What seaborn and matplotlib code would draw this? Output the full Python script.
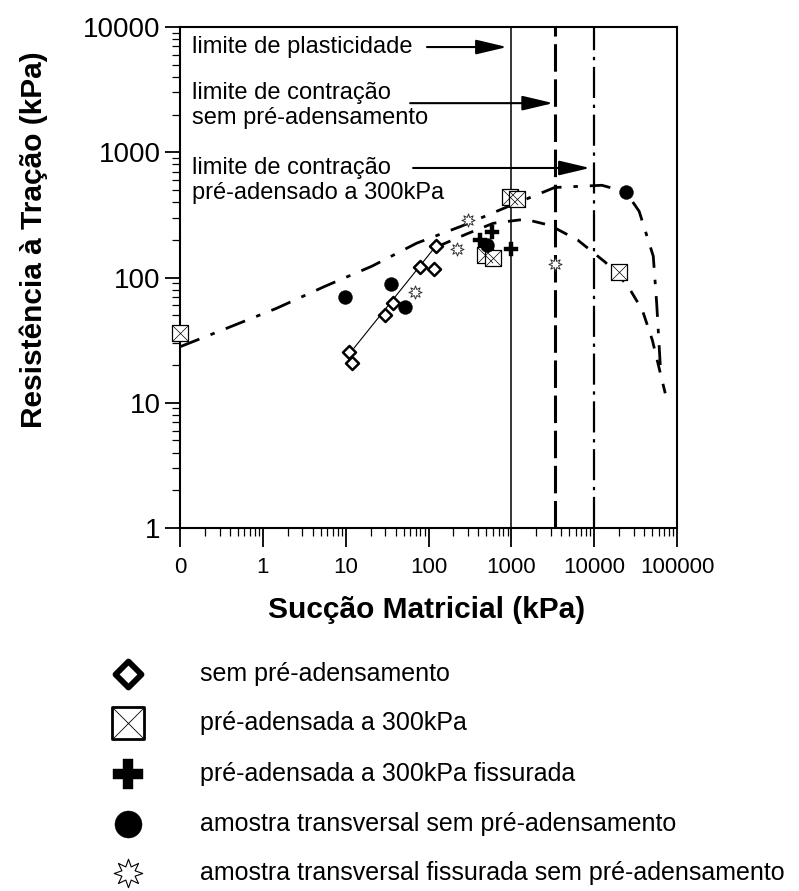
import matplotlib
matplotlib.use("Agg")
import matplotlib.pyplot as plt
import seaborn as sns
from matplotlib.ticker import FixedLocator, FixedFormatter, LogLocator, NullFormatter

sns.set_style("ticks")
plt.rcParams["font.family"] = ["Liberation Sans", "DejaVu Sans"]
plt.rcParams["text.color"] = "black"
plt.rcParams["axes.labelcolor"] = "black"
plt.rcParams["xtick.color"] = "black"
plt.rcParams["ytick.color"] = "black"

# --- ensaios de tração (sucção em kPa, resistência em kPa) ---
sem_x = [11.0, 11.9, 29.7, 37.1, 78.2, 118, 122]
sem_y = [25.3, 20.7, 50.0, 62.4, 121, 116, 178]
sem_fit_x = [12.6, 125]
sem_fit_y = [27.3, 181]

pre_x = [0.1, 960, 1175, 481, 604, 19700]
pre_y = [35.9, 440, 427, 151, 142, 111]

pre_fiss_x = [577, 419, 986]
pre_fiss_y = [231, 199, 170]

transv_x = [9.8, 35.1, 51.6, 502, 24100]
transv_y = [69.6, 88.4, 57.9, 181, 482]

transv_fiss_x = [69.5, 219, 297, 3390]
transv_fiss_y = [76.8, 170, 287, 129]

# curvas características ajustadas
upper_x = [0.1, 0.30, 1.45, 5.77, 20.7, 72, 250, 933, 3330, 12400, 24100, 34900, 51700, 56800, 62800]
upper_y = [28, 37.3, 56.6, 85.7, 123, 188, 257, 371, 523, 545, 482, 338, 148, 62.7, 20]

lower_x = [132, 286, 605, 1465, 2920, 6340, 13700, 25200, 38200, 50400, 72100]
lower_y = [178, 222, 271, 292, 261, 199, 132, 86.8, 54.8, 31.6, 11.9]

# limites de consistência / contração (kPa)
limit_x = [1000, 3400, 10000]
limit_labels = ["limite de plasticidade",
                "limite de contração\nsem pré-adensamento",
                "limite de contração\npré-adensado a 300kPa"]

x_ticks = [0.1, 1, 10, 100, 1000, 10000, 100000]
x_ticklabels = ["0", "1", "10", "100", "1000", "10000", "100000"]
y_ticks = [1, 10, 100, 1000, 10000]
y_ticklabels = ["1", "10", "100", "1000", "10000"]

legend_labels = ["sem pré-adensamento",
                 "pré-adensada a 300kPa",
                 "pré-adensada a 300kPa fissurada",
                 "amostra transversal sem pré-adensamento",
                 "amostra transversal fissurada sem pré-adensamento"]

W, H = 799, 891
fig = plt.figure(figsize=(W / 100, H / 100), dpi=100)
ax = fig.add_axes([180 / W, 1 - 528 / H, 497 / W, 501 / H])
ax.set_xscale("log")
ax.set_yscale("log")
ax.set_xlim(0.1, 1e5)
ax.set_ylim(1, 1e4)

# linhas verticais dos limites
ax.axvline(limit_x[0], color="black", lw=1.1, zorder=1)
ax.axvline(limit_x[1], color="black", lw=2.2, ls=(0, (9, 2.5)), zorder=1)
ax.axvline(limit_x[2], color="black", lw=1.6, ls=(0, (14, 3, 1.5, 3)), zorder=1)

# curvas ajustadas
sns.lineplot(x=upper_x, y=upper_y, ax=ax, color="black", lw=2.0,
             linestyle=(0, (7.5, 4.3, 1.6, 4.3)), sort=False, estimator=None, zorder=2)
sns.lineplot(x=lower_x, y=lower_y, ax=ax, color="black", lw=2.0,
             linestyle=(0, (4.7, 4.2)), sort=False, estimator=None, zorder=2)
sns.lineplot(x=sem_fit_x, y=sem_fit_y, ax=ax, color="black", lw=0.8,
             sort=False, estimator=None, zorder=2)

# pontos experimentais
sns.scatterplot(x=sem_x, y=sem_y, ax=ax, marker="D", s=44, color="white",
                edgecolor="black", linewidth=1.8, zorder=4, clip_on=False)
sns.scatterplot(x=pre_x, y=pre_y, ax=ax, marker="s", s=121, color="white",
                edgecolor="black", linewidth=0.9, zorder=4, clip_on=False)
sns.scatterplot(x=pre_x, y=pre_y, ax=ax, marker="x", s=121, color="black",
                linewidth=0.5, zorder=5, clip_on=False)
sns.scatterplot(x=pre_fiss_x, y=pre_fiss_y, ax=ax, marker="P", s=110, color="black",
                edgecolor="black", linewidth=0.3, zorder=4)
sns.scatterplot(x=transv_x, y=transv_y, ax=ax, marker="o", s=100, color="black",
                edgecolor="black", linewidth=0.3, zorder=4)
sns.scatterplot(x=transv_fiss_x, y=transv_fiss_y, ax=ax, marker=(8, 1, 0), s=90,
                color="white", edgecolor="#333333", linewidth=0.7, zorder=4)

# textos e setas dos limites
text_pos = [(0.024, 0.960), (0.024, 0.843), (0.024, 0.694)]
arrows = [((0.497, 0.960), (0.658, 0.960)),
          ((0.463, 0.848), (0.751, 0.848)),
          ((0.469, 0.7186), (0.825, 0.7186))]
for (tx, ty), label, (tail, tip) in zip(text_pos, limit_labels, arrows):
    ax.text(tx, ty, label, transform=ax.transAxes, fontsize=17, va="center",
            ha="left", linespacing=1.15, color="black")
    ax.annotate("", xy=tip, xycoords="axes fraction", xytext=tail,
                textcoords="axes fraction",
                arrowprops=dict(arrowstyle="-|>,head_length=19,head_width=4.5",
                                mutation_scale=1, color="black", lw=1.5,
                                shrinkA=0, shrinkB=0))

# eixos
ax.xaxis.set_major_locator(FixedLocator(x_ticks))
ax.xaxis.set_major_formatter(FixedFormatter(x_ticklabels))
ax.yaxis.set_major_locator(FixedLocator(y_ticks))
ax.yaxis.set_major_formatter(FixedFormatter(y_ticklabels))
for axis in (ax.xaxis, ax.yaxis):
    axis.set_minor_locator(LogLocator(base=10, subs=range(2, 10), numticks=20))
    axis.set_minor_formatter(NullFormatter())

ax.tick_params(axis="x", which="major", direction="out", length=14, width=1.3,
               labelsize=16, pad=7, colors="black")
ax.tick_params(axis="x", which="minor", direction="out", length=6, width=0.9,
               colors="black")
ax.tick_params(axis="y", which="major", direction="out", length=11, width=1.3,
               labelsize=20, pad=3, colors="black")
ax.tick_params(axis="y", which="minor", direction="out", length=6, width=0.9,
               colors="black")

for sp in ax.spines.values():
    sp.set_linewidth(1.5)
    sp.set_color("black")
    sp.set_visible(True)

ax.set_xlabel("Sucção Matricial (kPa)", fontsize=21.5, fontweight="bold", color="black")
ax.xaxis.set_label_coords(0.497, -0.136)
ax.set_ylabel("Resistência à Tração (kPa)", fontsize=21.5, fontweight="bold", color="black")
ax.yaxis.set_label_coords(-0.266, 0.575)

# legenda desenhada em eixo próprio (coordenadas em pixels da figura)
lax = fig.add_axes([0, 0, 1, 246 / H])
lax.set_xlim(0, W)
lax.set_ylim(H, H - 246)
lax.axis("off")
rows = [674, 723, 774, 824, 873]
mx = 128
sns.scatterplot(x=[mx], y=[rows[0]], ax=lax, marker="D", s=175, color="white",
                edgecolor="black", linewidth=4.2, clip_on=False)
sns.scatterplot(x=[mx], y=[rows[1]], ax=lax, marker="s", s=530, color="white",
                edgecolor="black", linewidth=2.0, clip_on=False)
sns.scatterplot(x=[mx], y=[rows[1]], ax=lax, marker="x", s=530, color="black",
                linewidth=0.6, clip_on=False)
sns.scatterplot(x=[mx], y=[rows[2]], ax=lax, marker="P", s=440, color="black",
                edgecolor="black", linewidth=0.3, clip_on=False)
sns.scatterplot(x=[mx], y=[rows[3]], ax=lax, marker="o", s=380, color="black",
                edgecolor="black", linewidth=0.3, clip_on=False)
sns.scatterplot(x=[mx], y=[rows[4]], ax=lax, marker=(8, 1, 0), s=420, color="white",
                edgecolor="black", linewidth=0.8, clip_on=False)
for ry, lab in zip(rows, legend_labels):
    lax.text(200, ry, lab, fontsize=18, va="center", ha="left", color="black")

fig.savefig("out.png", dpi=100, facecolor="white")
